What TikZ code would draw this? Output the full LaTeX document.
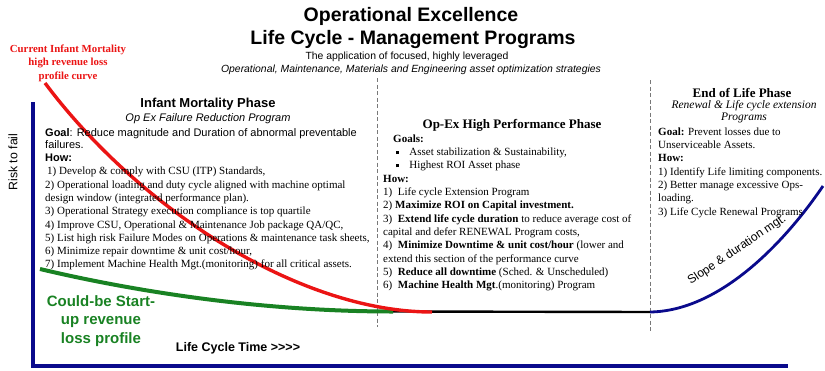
\documentclass[tikz,border=0pt]{standalone}
\usepackage{fontspec}
\setmainfont{Liberation Serif}
\setsansfont{Liberation Sans}
\usetikzlibrary{positioning}

\definecolor{axisblue}{RGB}{10,10,140}
\definecolor{curvered}{RGB}{235,20,20}
\definecolor{curvegreen}{RGB}{25,130,35}
\definecolor{phasegray}{RGB}{120,120,120}

\tikzset{
  maintitle/.style={font=\sffamily\bfseries\fontsize{19.5}{23}\selectfont},
  subtitle/.style={font=\sffamily\fontsize{10.4}{12}\selectfont},
  sanshead/.style={font=\sffamily\bfseries\fontsize{13}{15}\selectfont},
  serifhead/.style={font=\bfseries\fontsize{13}{15}\selectfont},
  sansbody/.style={font=\sffamily\fontsize{11}{12.7}\selectfont, align=left, anchor=north west},
  serifbody/.style={font=\fontsize{11}{13.3}\selectfont, align=left, anchor=north west},
  phaseline/.style={phasegray, line width=1pt, dash pattern=on 4pt off 2.5pt},
}

\newcommand{\sqbullet}{\rule[1.5pt]{3.2pt}{3.2pt}}

\begin{document}
\begin{tikzpicture}[x=1pt,y=-1pt,inner sep=0pt]
\useasboundingbox (0,0) rectangle (825,370);

% Title
\node[maintitle] (title) at (411,16) {Operational Excellence};
\node[maintitle] (title2) at (413,39) {Life Cycle - Management Programs};
\node[subtitle] (sub1) at (407,57) {The application of focused, highly leveraged};
\node[subtitle, font=\sffamily\itshape\fontsize{10.4}{12}\selectfont] (sub2) at (411,70)
  {Operational, Maintenance, Materials and Engineering asset optimization strategies};

% Axes
\coordinate (ytop) at (33,102);
\coordinate (origin) at (33,366);
\coordinate (xend) at (788,366);
\draw[axisblue, line width=3.3pt] (ytop) -- (origin) -- (xend);
\node[rotate=90, font=\sffamily\fontsize{12.3}{14}\selectfont] (risk) at (13,162) {Risk to fail};
\node[font=\sffamily\bfseries\fontsize{12.5}{14}\selectfont] (time) at (238,348) {Life Cycle Time >{}>{}>{}>};

% Phase borders
\draw[phaseline] (377,78) -- (377,327);
\draw[phaseline] (650,80) -- (650,333);

% Curves
\coordinate (redstart) at (45,83);
\coordinate (redend) at (432,312);
\coordinate (greenstart) at (40,269);
\coordinate (greenend) at (393,311.5);
\coordinate (flatend) at (650,312);
\coordinate (blueend) at (823,186);
\draw[black, line width=2.4pt] (greenend) -- (flatend);
\draw[curvegreen, line width=4pt] (greenstart) .. controls (120,288) and (250,311.5) .. (greenend);
\draw[curvered, line width=3.4pt] (redstart) .. controls (140,210) and (300,312) .. (redend);
\draw[axisblue, line width=2.8pt] (flatend) .. controls (720,311) and (785,242) .. (blueend);
\node[rotate=34, font=\sffamily\fontsize{12}{14}\selectfont] (slope) at (737,250) {Slope \& duration mgt.};

% Curve labels
\node[font=\bfseries\fontsize{10.8}{13.5}\selectfont, text=curvered, align=center] (redlabel) at (68,63)
  {Current Infant Mortality\\high revenue loss\\profile curve};
\node[font=\sffamily\bfseries\fontsize{15}{18.5}\selectfont, text=curvegreen, align=center] (greenlabel) at (101,321)
  {Could-be Start-\\up revenue\\loss profile};

% Infant Mortality Phase
\node[sanshead] (infanthead) at (208,104) {Infant Mortality Phase};
\node[font=\sffamily\itshape\fontsize{11}{13}\selectfont] (infantsub) at (208,119) {Op Ex Failure Reduction Program};
\node[sansbody] (infantgoal) at (45,128)
  {\textbf{Goal}: Reduce magnitude and Duration of abnormal preventable\\
   failures.\\
   \textbf{How:}};
\node[serifbody] (infanthow) at (45,167)
  {\hspace*{2pt}1) Develop \& comply with CSU (ITP) Standards,\\
   2) Operational loading and duty cycle aligned with machine optimal\\
   design window (integrated performance plan).\\
   3) Operational Strategy execution compliance is top quartile\\
   4) Improve CSU, Operational \& Maintenance Job package QA/QC,\\
   5) List high risk Failure Modes on Operations \& maintenance task sheets,\\
   6) Minimize repair downtime \& unit cost/hour,\\
   7) Implement Machine Health Mgt.(monitoring) for all critical assets.};

% Op-Ex High Performance Phase
\node[serifhead] (opexhead) at (512,125) {Op-Ex High Performance Phase};
\node[serifbody] (opexhow) at (383,134.5)
  {\hspace*{10pt}\textbf{Goals:}\\
   \hspace*{13pt}\sqbullet\hspace{10pt}Asset stabilization \& Sustainability,\\
   \hspace*{13pt}\sqbullet\hspace{10pt}Highest ROI Asset phase\\
   \textbf{How:}\\
   1)~ Life cycle Extension Program\\
   2) \textbf{Maximize ROI on Capital investment.}\\
   3)~ \textbf{Extend life cycle duration} to reduce average cost of\\
   capital and defer RENEWAL Program costs,\\
   4)~ \textbf{Minimize Downtime \& unit cost/hour} (lower and\\
   extend this section of the performance curve\\
   5)~ \textbf{Reduce all downtime} (Sched. \& Unscheduled)\\
   6)~ \textbf{Machine Health Mgt}.(monitoring) Program};

% End of Life Phase
\node[serifhead] (endhead) at (742,93) {End of Life Phase};
\node[font=\itshape\fontsize{11.5}{12}\selectfont, align=center] (endsub) at (744,112)
  {Renewal \& Life cycle extension\\Programs};
\node[serifbody] (endhow) at (658,127.5)
  {\textbf{Goal:} Prevent losses due to\\
   Unserviceable Assets.\\
   \textbf{How:}\\
   1) Identify Life limiting components.\\
   2) Better manage excessive Ops-\\
   loading.\\
   3) Life Cycle Renewal Programs};
\end{tikzpicture}
\end{document}
